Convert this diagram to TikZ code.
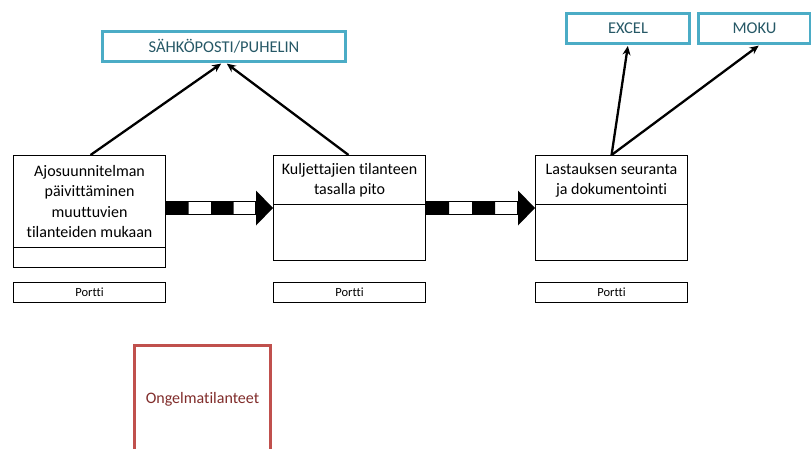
\documentclass[tikz,border=0pt]{standalone}
\usepackage{fontspec}
\setmainfont{Carlito}[Ligatures=NoCommon]
\usetikzlibrary{calc,arrows.meta}

\definecolor{tealline}{RGB}{75,172,198}
\definecolor{tealtext}{RGB}{38,88,102}
\definecolor{redline}{RGB}{192,80,77}
\definecolor{redtext}{RGB}{128,44,42}

\tikzset{
  taskbox/.style={draw=black, line width=1.1pt, inner sep=0pt, anchor=north west,
    minimum width=152pt, align=center, font=\fontsize{16}{20.3}\selectfont},
  gatebox/.style={draw=black, line width=1.1pt, inner sep=0pt, anchor=north west,
    minimum width=152pt, minimum height=20pt, font=\fontsize{12.5}{14}\selectfont},
  toolbox/.style={draw=tealline, line width=3pt, inner sep=0pt, anchor=north west,
    minimum height=30pt, text=tealtext, font=\fontsize{16.5}{18}\selectfont},
  issuebox/.style={draw=redline, line width=3pt, inner sep=0pt, anchor=north west,
    minimum width=136pt, minimum height=108pt, text=redtext, font=\fontsize{16}{18}\selectfont},
  link/.style={line width=2.3pt, -{Stealth[length=9pt,width=8pt]}, shorten >=1pt},
}

% Thick striped flow arrow between two points on the same height
\newcommand\stripedarrow[2]{%
  \fill[black] let \p1=(#1), \p2=(#2), \n1={(\x2-\x1-17pt)/4} in
    (\x1,\y1-6.5pt) rectangle (\x1+\n1,\y1+6.5pt)
    (\x1+2*\n1,\y1-6.5pt) rectangle (\x1+3*\n1,\y1+6.5pt);
  \draw[black, line width=1.1pt] let \p1=(#1), \p2=(#2) in
    (\x1,\y1-6.5pt) rectangle (\x2-17pt,\y1+6.5pt);
  \fill[black] let \p1=(#1), \p2=(#2) in
    (\x2-17pt,\y2-17.5pt) -- (\x2,\y2) -- (\x2-17pt,\y2+17.5pt) -- cycle;
}

\begin{document}
\begin{tikzpicture}[x=1pt, y=-1pt]
  \useasboundingbox (0,0) rectangle (811,448);
  \clip (0,0) rectangle (811,448);

  % process steps (upper part with title, lower empty part)
  \node[taskbox, minimum height=92pt] (b1) at (13,155)
    {Ajosuunnitelman\\päivittäminen\\muuttuvien\\tilanteiden mukaan};
  \node[taskbox, minimum height=20pt] (b1l) at (13,247) {};
  \node[taskbox, minimum height=49pt] (b2) at (273,155)
    {Kuljettajien tilanteen\\tasalla pito};
  \node[taskbox, minimum height=56pt] (b2l) at (273,204) {};
  \node[taskbox, minimum height=49pt] (b3) at (535,155)
    {Lastauksen seuranta\\ja dokumentointi};
  \node[taskbox, minimum height=56pt] (b3l) at (535,204) {};

  % gates
  \node[gatebox] (g1) at (13,282) {Portti};
  \node[gatebox] (g2) at (273,282) {Portti};
  \node[gatebox] (g3) at (535,282) {Portti};

  % communication tools
  \node[toolbox, minimum width=243pt] (mail) at (101,30) {SÄHKÖPOSTI/PUHELIN};
  \node[toolbox, minimum width=123pt] (excel) at (565,12) {EXCEL};
  \node[toolbox, minimum width=112pt] (moku) at (697,12) {MOKU};

  % problem situations
  \node[issuebox] (issue) at (133,344) {Ongelmatilanteet};

  % links to tools
  \draw[link] ([xshift=1pt]b1.north) -- ([xshift=-2pt]mail.south);
  \draw[link] ([xshift=-1pt]b2.north) -- ([xshift=2pt]mail.south);
  \draw[link] (b3.north) -- (excel.south);
  \draw[link] (b3.north) -- ([xshift=5pt]moku.south);

  % main flow
  \coordinate (flow) at (0,208);
  \stripedarrow{b1.east |- flow}{b2.west |- flow}
  \stripedarrow{b2.east |- flow}{b3.west |- flow}
\end{tikzpicture}
\end{document}
